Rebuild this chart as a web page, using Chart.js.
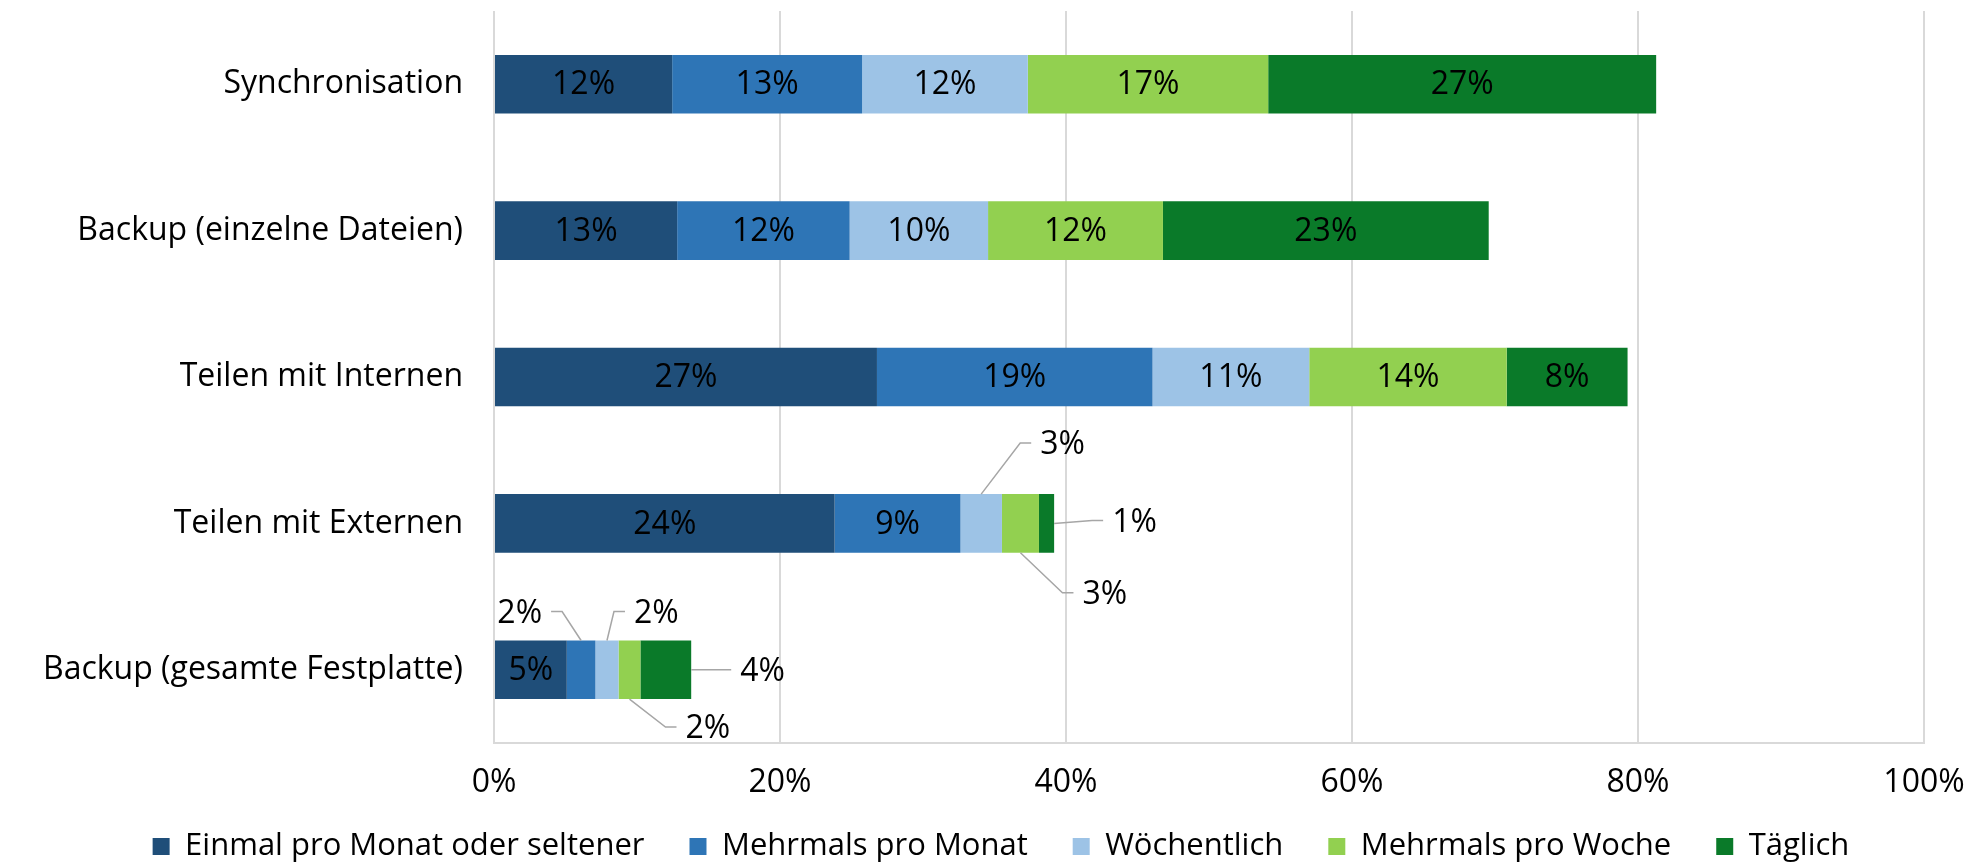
<!DOCTYPE html>
<html>
<head>
<meta charset="utf-8">
<script src="https://cdn.jsdelivr.net/npm/chart.js@4"></script>
<style>
  body { margin: 0; background: #fff; }
  #wrap { width: 1975px; height: 862px; }
</style>
</head>
<body>
<div id="wrap"><canvas id="chart" width="1975" height="862"></canvas></div>
<script>
var categories = ['Synchronisation', 'Backup (einzelne Dateien)', 'Teilen mit Internen', 'Teilen mit Externen', 'Backup (gesamte Festplatte)'];
var seriesNames = ['Einmal pro Monat oder seltener', 'Mehrmals pro Monat', 'Wöchentlich', 'Mehrmals pro Woche', 'Täglich'];
var einmalProMonat = [12.46, 12.81, 26.78, 23.82, 5.09];
var mehrmalsProMonat = [13.28, 12.06, 19.27, 8.80, 2.00];
var woechentlich = [11.59, 9.68, 10.96, 2.90, 1.62];
var mehrmalsProWoche = [16.81, 12.23, 13.81, 2.59, 1.53];
var taeglich = [27.13, 22.78, 8.45, 1.06, 3.55];
var xTicks = [0, 20, 40, 60, 80, 100];

var colors = ['#1F4E79', '#2E75B6', '#9DC3E6', '#92D050', '#0A7A29'];
var fontFamily = '"Open Sans", Lato, sans-serif';
var fontSize = 32;

// small segments get a label outside the bar with a leader line
var callouts = [
  { ds: 2, cat: 3, anchor: 'top', dx: 39, dy: -51, side: 1 },
  { ds: 4, cat: 3, anchor: 'right', dx: 38, dy: -3, side: 1 },
  { ds: 3, cat: 3, anchor: 'bottom', dx: 42, dy: 40, side: 1 },
  { ds: 1, cat: 4, anchor: 'top', dx: -19, dy: -29, side: -1 },
  { ds: 2, cat: 4, anchor: 'top', dx: 7, dy: -29, side: 1 },
  { ds: 4, cat: 4, anchor: 'right', dx: 29, dy: 0, side: 1 },
  { ds: 3, cat: 4, anchor: 'bottom', dx: 36, dy: 28, side: 1 }
];

function findCallout(ds, cat) {
  for (var i = 0; i < callouts.length; i++) {
    if (callouts[i].ds === ds && callouts[i].cat === cat) {
      return callouts[i];
    }
  }
  return null;
}

function noScalePadding(scale) {
  scale.paddingTop = 0;
  scale.paddingBottom = 0;
  scale.paddingLeft = 0;
  scale.paddingRight = 0;
}

var labelPlugin = {
  id: 'segmentLabels',
  afterInit: function (chart) {
    var legend = chart.legend;
    var fit = legend.fit;
    legend.fit = function () {
      fit.call(this);
      this.height = 49;
    };
  },
  afterLayout: function (chart) {
    // let the legend box reach up into the axis box so the row sits lower,
    // and nudge it a bit to the right like the original
    var legend = chart.legend;
    legend.top = chart.chartArea.bottom + 43;
    legend.bottom = chart.height;
    legend.height = legend.bottom - legend.top;
    legend.left = 27;
    legend.right = chart.width;
    legend.width = legend.right - legend.left;
  },
  afterDatasetsDraw: function (chart) {
    var ctx = chart.ctx;
    ctx.save();
    ctx.font = fontSize + 'px ' + fontFamily;
    ctx.fillStyle = '#000';
    chart.data.datasets.forEach(function (dataset, ds) {
      var meta = chart.getDatasetMeta(ds);
      meta.data.forEach(function (bar, cat) {
        var text = Math.round(dataset.data[cat]) + '%';
        var left = Math.min(bar.base, bar.x);
        var right = Math.max(bar.base, bar.x);
        var top = bar.y - bar.height / 2;
        var bottom = bar.y + bar.height / 2;
        var c = findCallout(ds, cat);
        if (!c) {
          ctx.textAlign = 'center';
          ctx.textBaseline = 'middle';
          ctx.fillText(text, (left + right) / 2, bar.y + 1);
          return;
        }
        var ax, ay;
        if (c.anchor === 'top') {
          ax = (left + right) / 2; ay = top;
        } else if (c.anchor === 'bottom') {
          ax = (left + right) / 2; ay = bottom;
        } else {
          ax = right; ay = bar.y;
        }
        var ex = ax + c.dx;
        var ey = ay + c.dy;
        var sx = ex + 11 * c.side;
        ctx.strokeStyle = '#A6A6A6';
        ctx.lineWidth = 1.5;
        ctx.beginPath();
        ctx.moveTo(ax, ay);
        ctx.lineTo(ex, ey);
        ctx.lineTo(sx, ey);
        ctx.stroke();
        ctx.textAlign = c.side > 0 ? 'left' : 'right';
        ctx.textBaseline = 'middle';
        ctx.fillText(text, sx + 9 * c.side, ey + 2);
      });
    });
    ctx.restore();
  }
};

var seriesData = [einmalProMonat, mehrmalsProMonat, woechentlich, mehrmalsProWoche, taeglich];
var datasets = seriesData.map(function (values, i) {
  return {
    label: seriesNames[i],
    data: values,
    backgroundColor: colors[i],
    borderWidth: 0,
    categoryPercentage: 1,
    barPercentage: 0.4
  };
});

new Chart(document.getElementById('chart'), {
  type: 'bar',
  data: {
    labels: categories,
    datasets: datasets
  },
  plugins: [labelPlugin],
  options: {
    indexAxis: 'y',
    responsive: false,
    animation: false,
    layout: {
      padding: { left: 0, top: 11, right: 51, bottom: 0 }
    },
    scales: {
      x: {
        stacked: true,
        min: 0,
        max: 100,
        afterBuildTicks: function (scale) {
          scale.ticks = xTicks.map(function (v) { return { value: v }; });
        },
        afterFit: function (scale) {
          scale.height = 70;
          noScalePadding(scale);
        },
        grid: {
          color: '#D9D9D9',
          lineWidth: 2,
          drawTicks: false
        },
        border: { color: '#D9D9D9', width: 2 },
        ticks: {
          padding: 21,
          color: '#000',
          font: { family: fontFamily, size: fontSize },
          callback: function (v) { return v + '%'; }
        }
      },
      y: {
        stacked: true,
        afterFit: function (scale) {
          scale.width = 494;
          noScalePadding(scale);
        },
        grid: { display: false, drawTicks: false },
        border: { display: false },
        ticks: {
          padding: 31,
          color: '#000',
          font: { family: fontFamily, size: fontSize }
        }
      }
    },
    plugins: {
      legend: {
        position: 'bottom',
        labels: {
          boxWidth: 17,
          boxHeight: 17,
          padding: 45,
          color: '#000',
          font: { family: fontFamily, size: 31 }
        }
      },
      tooltip: { enabled: false }
    }
  }
});
</script>
</body>
</html>
